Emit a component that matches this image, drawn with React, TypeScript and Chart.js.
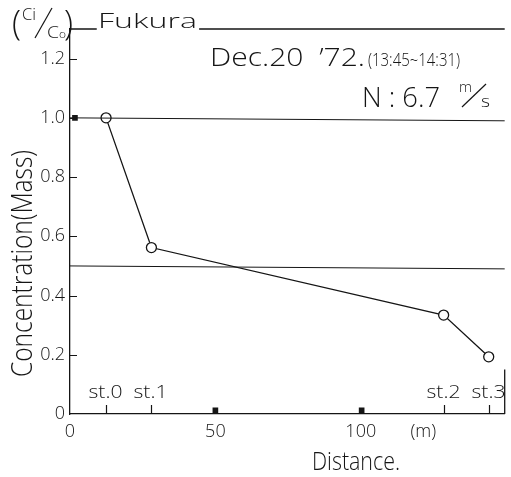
import { useEffect, useRef } from "react";
import { Chart, registerables } from "chart.js";
Chart.register(...registerables);

const stationLabels = ["st.0", "st.1", "st.2", "st.3"];
const distances = [12.4, 28, 128.5, 144];
const concentrations = [1.0, 0.562, 0.334, 0.193];
const yTickValues = [0, 0.2, 0.4, 0.6, 0.8, 1.0, 1.2];
const xTickValues = [0, 50, 100, 121.5];
const xTickLabels = ["0", "50", "100", "(m)"];
const refLineHigh = [{ x: 0, y: 1.0 }, { x: 149.5, y: 0.99 }];
const refLineLow = [{ x: 0, y: 0.5 }, { x: 149.5, y: 0.49 }];
const frameTopLeft = [{ x: 0, y: 1.3 }, { x: 9.2, y: 1.3 }];
const frameTopRight = [{ x: 44.4, y: 1.3 }, { x: 149.5, y: 1.3 }];
const frameRight = [{ x: 149.5, y: 0 }, { x: 149.5, y: 0.15 }];
const markerPoints = [{ x: 1.7, y: 1.0 }, { x: 50, y: 0.012 }, { x: 100.3, y: 0.012 }];

const FAM = "'Open Sans', 'DejaVu Sans', sans-serif";
const WEIGHT = 300;
const INK = "#151515";

function fitText(ctx: CanvasRenderingContext2D, text: string, x: number, y: number, w: number | null, size: number, align: "left" | "center" = "left") {
  ctx.save();
  ctx.font = `${WEIGHT} ${size}px ${FAM}`;
  ctx.textBaseline = "alphabetic";
  ctx.textAlign = "left";
  const m = ctx.measureText(text).width;
  const sx = w ? w / m : 1;
  const width = m * sx;
  const left = align === "center" ? x - width / 2 : x;
  ctx.translate(left, y);
  ctx.scale(sx, 1);
  ctx.fillText(text, 0, 0);
  ctx.restore();
}

function stroke(ctx: CanvasRenderingContext2D, x1: number, y1: number, x2: number, y2: number, w = 1) {
  ctx.save();
  ctx.lineWidth = w;
  ctx.beginPath();
  ctx.moveTo(x1, y1);
  ctx.lineTo(x2, y2);
  ctx.stroke();
  ctx.restore();
}

const annotate = {
  id: "annotate",
  afterDraw(chart: any) {
    const ctx: CanvasRenderingContext2D = chart.ctx;
    const xs = chart.scales.x;
    const ys = chart.scales.y;
    ctx.save();
    ctx.fillStyle = INK;
    ctx.strokeStyle = INK;
    ctx.lineWidth = 1;
    yTickValues.forEach((v) => {
      if (v === 0) return;
      const py = Math.round(ys.getPixelForValue(v)) + 0.5;
      stroke(ctx, xs.left, py, xs.left + 7, py);
    });
    distances.forEach((d, i) => {
      const px = Math.round(xs.getPixelForValue(d)) + 0.5;
      stroke(ctx, px, ys.bottom - 9, px, ys.bottom, 1.2);
      fitText(ctx, stationLabels[i], px - 1, 398, 34, 19, "center");
    });
    fitText(ctx, "Fukura", 98, 28, 99, 21);
    fitText(ctx, "Dec.20  \u201972.", 210, 66, 155, 25);
    fitText(ctx, "(13:45~14:31)", 368, 66, 92, 18);
    fitText(ctx, "N : 6.7", 362, 107, 78, 28);
    fitText(ctx, "m", 459, 92, 13, 15);
    stroke(ctx, 462, 107, 486, 84, 1.2);
    fitText(ctx, "s", 481, 107, 9, 16);
    fitText(ctx, "(", 12, 35, 9, 34);
    fitText(ctx, "Ci", 22, 20, 14, 16);
    stroke(ctx, 35, 38, 52, 8, 1.2);
    fitText(ctx, "C", 47, 38, 12, 17);
    fitText(ctx, "o", 59, 38, 7, 11);
    fitText(ctx, ")", 64, 35, 9, 34);
    fitText(ctx, "Distance.", 312, 470, 88, 25);
    ctx.save();
    ctx.translate(32, 377);
    ctx.rotate(-Math.PI / 2);
    fitText(ctx, "Concentration(Mass)", 0, 0, 227, 30);
    ctx.restore();
    ctx.restore();
  },
};

export default function App() {
  const ref = useRef<HTMLCanvasElement | null>(null);
  useEffect(() => {
    if (!ref.current) return;
    const thin = (data: any[]) => ({
      data,
      showLine: true,
      borderColor: INK,
      borderWidth: 1,
      pointRadius: 0,
      clip: 6,
    });
    const chart = new Chart(ref.current, {
      type: "scatter",
      data: {
        datasets: [
          thin(refLineHigh),
          thin(refLineLow),
          { ...thin(frameTopLeft), borderWidth: 1.3 },
          { ...thin(frameTopRight), borderWidth: 1.3 },
          { ...thin(frameRight), borderWidth: 1.3 },
          {
            data: markerPoints,
            showLine: false,
            pointStyle: "rect",
            pointRadius: 4,
            backgroundColor: INK,
            borderColor: INK,
            borderWidth: 0,
            clip: 6,
          },
          {
            data: distances.map((d, i) => ({ x: d, y: concentrations[i] })),
            showLine: true,
            borderColor: INK,
            borderWidth: 1.3,
            pointRadius: 5,
            pointBackgroundColor: "#ffffff",
            pointBorderColor: INK,
            pointBorderWidth: 1.3,
            clip: 8,
          },
        ] as any,
      },
      options: {
        animation: false,
        responsive: false,
        layout: { padding: { top: 29, right: 3, left: 0, bottom: 0 } },
        plugins: { legend: { display: false }, tooltip: { enabled: false } },
        scales: {
          x: {
            type: "linear",
            min: 0,
            max: 149.5,
            afterBuildTicks: (s: any) => {
              s.ticks = xTickValues.map((v) => ({ value: v }));
            },
            afterFit: (s: any) => {
              s.height = 63;
            },
            ticks: {
              callback: (_v: any, i: number) => xTickLabels[i],
              color: INK,
              font: { family: FAM, size: 18, weight: WEIGHT },
              padding: 7,
              maxRotation: 0,
              autoSkip: false,
            },
            grid: { display: false, drawTicks: false },
            border: { display: true, color: INK, width: 1.3 },
          },
          y: {
            type: "linear",
            min: 0,
            max: 1.3,
            afterBuildTicks: (s: any) => {
              s.ticks = yTickValues.map((v) => ({ value: v }));
            },
            afterFit: (s: any) => {
              s.width = 70;
            },
            ticks: {
              callback: (v: any) => (v === 0 ? "0" : Number(v).toFixed(1)),
              color: INK,
              font: { family: FAM, size: 18, weight: WEIGHT },
              padding: 5,
              autoSkip: false,
            },
            grid: { display: false, drawTicks: false },
            border: { display: true, color: INK, width: 1.3 },
          },
        },
      } as any,
      plugins: [annotate],
    });
    return () => chart.destroy();
  }, []);
  return (
    <div style={{ position: "fixed", left: 0, top: 0, width: 511, height: 477, background: "#fff" }}>
      <canvas ref={ref} width={511} height={477} style={{ display: "block" }} />
    </div>
  );
}
